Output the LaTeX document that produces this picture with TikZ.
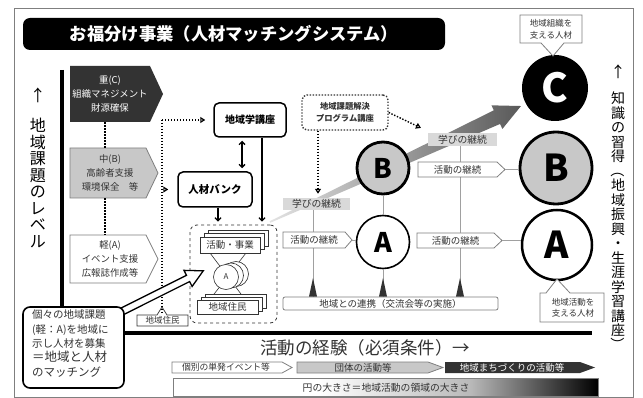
\documentclass[tikz,border=0pt]{standalone}
\usepackage{graphicx}
\usepackage{fontspec}
\setmainfont{Noto Sans CJK JP}
\usetikzlibrary{arrows.meta}
\definecolor{dk}{HTML}{333333}
\definecolor{lg}{HTML}{C8C8C8}
\definecolor{bd}{HTML}{7F7F7F}
\definecolor{thinl}{HTML}{A0A0A0}
\colorlet{midg}{gray!55}
\newcommand\fs[2]{\fontsize{#1}{#2}\selectfont}
\newcommand\pent[6]{\path[#6] (#1,#2) -- ({#3-#5},#2) -- (#3,{(#2+#4)/2}) -- ({#3-#5},#4) -- (#1,#4) -- cycle;}
\newcommand\vparen[1]{\rotatebox[origin=c]{-90}{#1}}
\pgfdeclarehorizontalshading{barshade}{100bp}{color(0bp)=(white); color(25bp)=(white); color(42bp)=(white); color(60bp)=(midg); color(75bp)=(black); color(100bp)=(black)}
\begin{document}
\begin{tikzpicture}[x=1pt,y=-1pt,
  dotline/.style={line width=1.4pt, dash pattern=on 1.4pt off 1.6pt},
  tipo/.style={-{Triangle[open,length=5pt,width=6pt,line width=1.2pt]}},
  sarr/.style={line width=1.3pt, -{Straight Barb[length=3pt,width=6pt]}},
  sbox/.style={draw=black, line width=1.5pt, rounded corners=5pt, fill=white, inner sep=0, font=\bfseries\fs{10}{12}},
  lbl/.style={inner sep=0, align=center, text=dk},
  hair/.style={draw=thinl, line width=0.6pt},
  pentst/.style={fill=white, draw=bd, line width=0.8pt},
  bigc/.style={circle, inner sep=0, font=\bfseries\fs{37}{37}},
  vt/.style={inner sep=0, align=center, text=black}]
\useasboundingbox (0,0) rectangle (643,398);
\fill[white] (0,0) rectangle (643,398);
\draw[bd, line width=0.8pt] (14,8) rectangle (633,397);

% title
\node[fill=black, rounded corners=7pt, minimum width=422pt, minimum height=32pt, inner sep=0, text=white, font=\bfseries\fs{17.3}{20}] (title) at (234,34) {お福分け事業（人材マッチングシステム）};

% thick L line
\draw[line width=4.5pt] (62,70) -- (62,333) -- (592,333);

% learning band
\begin{scope}[shift={(270,222)}, rotate=24.8]
\shade[left color=gray!22, right color=gray!70!black] (0,-0.8) -- (250,-7.5) -- (250,-13) -- (276.5,0) -- (250,13) -- (250,7.5) -- (0,0.8) -- cycle;
\end{scope}

% left level boxes
\pent{70}{66}{163}{122}{13}{fill=dk}
\node[lbl, text=white, minimum width=80pt, minimum height=56pt, font=\fs{9.4}{14}] (lvC) at (110,94) {重(C)\\組織マネジメント\\財源確保};
\pent{70}{148}{158}{198}{12}{fill=lg, draw=bd, line width=0.8pt}
\node[lbl, minimum width=72pt, minimum height=50pt, font=\fs{9.4}{14}] (lvB) at (110,173) {中(B)\\高齢者支援\\環境保全　等};
\pent{70}{235}{158}{283}{12}{pentst}
\node[lbl, minimum width=72pt, minimum height=48pt, font=\fs{9.4}{14}] (lvA) at (110,259) {軽(A)\\イベント支援\\広報誌作成等};
\draw[dotline] ([xshift=-5pt]lvC.south) -- ([xshift=-5pt]lvB.north);
\draw[dotline] ([xshift=-5pt]lvB.south) -- ([xshift=-5pt]lvA.north);

% 地域住民 small label
\path[fill=white, draw=dk, line width=0.7pt] (137,315) -- (157,315) -- (162,307) -- (167,315) -- (188,315) -- (188,326) -- (137,326) -- cycle;
\node[lbl, minimum width=51pt, minimum height=11pt, font=\fs{8.5}{10}] (jumin) at (162.5,320.5) {地域住民};

% boxes
\coordinate (dv) at (162,120);
\node[sbox, minimum width=72pt, minimum height=34pt] (gaku) at (250,120) {地域学講座};
\node[sbox, minimum width=74pt, minimum height=35pt, font=\bfseries\fs{10.5}{12}] (jinzai) at (215,189.5) {人材バンク};
\draw[dotline] (dv) -- (dv |- jumin.north);
\draw[dotline, tipo, shorten >=8pt] (dv) -- (gaku.west);
\draw[dotline, tipo, shorten >=9pt] (dv |- jinzai.west) -- (jinzai.west);
\draw[line width=1.3pt, {Straight Barb[length=3pt,width=6pt]}-{Straight Barb[length=3pt,width=6pt]}, shorten <=3pt, shorten >=3pt] ([xshift=-8pt]gaku.south) -- ([xshift=-8pt]gaku.south |- jinzai.north);

% group
\node[draw=dk, dashed, line width=0.8pt, rounded corners=7pt, minimum width=87pt, minimum height=98pt, inner sep=0] (grp) at (233.5,274) {};
\draw[sarr, shorten >=3pt] ([xshift=12pt]gaku.south) -- ([xshift=12pt]gaku.south |- grp.north);
\draw[sarr, shorten >=3pt] ([xshift=3pt]jinzai.south) -- ([xshift=3pt]jinzai.south |- grp.north);
\draw[dk, line width=0.6pt] (210,253) -- (244,298);
\draw[dk, line width=0.6pt] (246,253) -- (211,298);
\foreach \o in {8,4} \draw[fill=white, draw=dk, line width=0.6pt] ({200+\o},{237-0.875*\o}) rectangle ({260+\o},{253-0.875*\o});
\node[draw=dk, fill=white, line width=0.6pt, minimum width=60pt, minimum height=16pt, inner sep=0, font=\fs{9.5}{11}, text=dk] (katsudo) at (230,245) {活動・事業};
\foreach \o in {8,4} \draw[fill=white, draw=dk, line width=0.6pt] ({197+\o},{300-0.75*\o}) rectangle ({258+\o},{314-0.75*\o});
\node[draw=dk, fill=white, line width=0.6pt, minimum width=61pt, minimum height=14pt, inner sep=0, font=\fs{9.5}{11}, text=dk] (jumin2) at (227.5,307) {地域住民};
\foreach \dx/\dy in {10/-3, 5/-1.5} \draw[fill=white, draw=dk, line width=0.6pt] ({226+\dx},{277+\dy}) circle[radius=12.5pt];
\node[circle, draw=dk, fill=white, line width=0.6pt, minimum size=25pt, inner sep=0, font=\fs{8}{9}, text=dk] (minA) at (226,277) {A};

% hollow arrow and callout
\begin{scope}[shift={(121,312)}, rotate=26.6]
\path[fill=white, draw=black, line width=1.3pt, line join=miter] (0,-3.5) -- (75,-3.5) -- (75,-9) -- (92,0) -- (75,9) -- (75,3.5) -- (0,3.5) -- cycle;
\end{scope}
\node[draw=black, line width=1.6pt, rounded corners=7pt, fill=white, minimum width=101pt, minimum height=81pt, inner sep=0] (callout) at (73.5,347.5) {};
\node[lbl, align=left, anchor=west, font=\fs{10.5}{14.3}] (calltxt) at (32,343.5) {個々の地域課題\\(軽：A)を地域に\\示し人材を募集\\{\fs{12.5}{14.3}＝地域と人材}\\{\fs{11.5}{14.3}のマッチング}};

% program box
\node[draw=dk, dotline, rounded corners=5pt, minimum width=86pt, minimum height=35pt, inner sep=0, font=\bfseries\fs{8.3}{12}, text=dk, align=center] (prog) at (345,112.5) {地域課題解決\\プログラム講座};
\node[fill=gray!30, minimum width=67pt, minimum height=12pt, inner sep=0, font=\fs{9.8}{11}, text=dk] (manabi1) at (316.5,204) {学びの継続};
\node[fill=gray!30, minimum width=69pt, minimum height=13pt, inner sep=0, font=\fs{9.8}{11}, text=dk] (manabi2) at (462.5,139.5) {学びの継続};
\draw[dotline, tipo, shorten >=2pt] (prog.east) -- ([xshift=-5pt,yshift=4pt]manabi2.north west);
\draw[dotline, tipo, shorten >=4pt] ([xshift=-27pt]prog.south) -- ([xshift=-27pt]prog.south |- manabi1.north);

% circles
\node[circle, draw=black, line width=2.8pt, fill=lg, minimum size=52pt, inner sep=0, font=\bfseries\fs{27}{27}] (sB) at (383,168) {B};
\node[circle, draw=black, line width=1.6pt, fill=white, minimum size=53pt, inner sep=0, font=\bfseries\fs{27}{27}] (sA) at (383,242) {A};
\node[bigc, fill=black, text=white, minimum size=66pt, font=\bfseries\fs{40}{40}] (bC) at (555,88) {C};
\node[bigc, draw=black, line width=2.8pt, fill=lg, minimum size=72pt] (bB) at (556,168) {B};
\node[bigc, draw=black, line width=2.5pt, fill=white, minimum size=70pt] (bA) at (557,245) {A};

% renkei box and vertical lines
\node[draw=bd, rounded corners=2pt, fill=white, minimum width=215pt, minimum height=13pt, inner sep=0, font=\fs{9.5}{11}, text=dk, line width=0.8pt] (renkei) at (390.5,303.5) {地域との連携（交流会等の実施）};
\coordinate (v1) at (313,0);
\coordinate (v3) at (460,0);
\coordinate (ttop) at (0,278);
\draw[hair] (v1 |- manabi1.south) -- (v1 |- renkei.north);
\draw[hair] (v3 |- manabi2.south) -- (v3 |- renkei.north);
\draw[hair] (sB.south) -- (sA.north);
\draw[hair] (sA.south) -- (sA |- renkei.north);
\foreach \p in {v1, sA, v3} \fill[dk] ([xshift=-4pt]\p |- renkei.north) -- ([xshift=4pt]\p |- renkei.north) -- (\p |- ttop) -- cycle;

% activity continuation labels
\pent{283}{232}{352}{248}{7}{pentst}
\node[lbl, minimum width=62pt, minimum height=16pt, font=\fs{9.5}{11}] (kz1) at (314,240) {活動の継続};
\pent{418}{162}{505}{177}{8}{pentst}
\node[lbl, minimum width=79pt, minimum height=15pt, font=\fs{9.5}{11}] (kz2) at (457.5,169.5) {活動の継続};
\pent{417}{233}{502}{248}{8}{pentst}
\node[lbl, minimum width=77pt, minimum height=15pt, font=\fs{9.5}{11}] (kz3) at (455.5,240.5) {活動の継続};
\draw[hair] ([xshift=7pt]kz1.east) -- (sA.west |- kz1.east);
\draw[hair] ([xshift=8pt]kz2.east) -- (bB.west |- kz2.east);
\draw[hair] ([xshift=8pt]kz3.east) -- (bA.west |- kz3.east);

% labels on big circles
\path[fill=white, draw=bd, line width=0.8pt] (520,15) -- (582,15) -- (582,43) -- (564,43) -- (553,56) -- (541,43) -- (520,43) -- cycle;
\node[lbl, font=\fs{8.5}{12}] (lC) at (551,29) {地域組織を\\支える人材};
\path[fill=white, draw=bd, line width=0.8pt] (540,293) -- (546,293) -- (557,279) -- (570,293) -- (604,293) -- (604,322) -- (540,322) -- cycle;
\node[lbl, font=\fs{8.5}{11}] (lA) at (573,307.5) {地域活動を\\支える人材};

% bottom
\node[inner sep=0, font=\fs{17.5}{20}, text=dk] (keiken) at (365,348) {活動の経験（必須条件）→};
\pent{172}{362}{292}{373}{10}{pentst}
\node[lbl, font=\fs{8.8}{10}] (ar1) at (226,367.5) {個別の単発イベント等};
\pent{297}{362}{443}{373}{15}{fill=lg, draw=bd, line width=0.8pt}
\node[lbl, font=\fs{9.5}{10}] (ar2) at (363,367.5) {団体の活動等};
\pent{445}{362}{595}{373}{15}{fill=dk}
\node[lbl, text=white, font=\fs{9.5}{10}] (ar3) at (512,367.5) {地域まちづくりの活動等};
\shade[shading=barshade] (173,378) rectangle (598,396);
\draw[bd, line width=0.8pt] (173,378) rectangle (598,396);
\node[lbl, font=\fs{9.8}{11}] (circ) at (386,387.5) {円の大きさ＝地域活動の領域の大きさ};

% vertical texts
\node[vt, font=\fs{16}{16}] (larr) at (38,95) {↑};
\node[vt, font=\fs{16}{16.5}] (ltxt) at (38,183) {地\\域\\課\\題\\の\\レ\\ベ\\ル};
\node[vt, font=\fs{15}{15}] (rarr) at (618,72) {↑};
\node[vt, font=\fs{14}{14.5}] (rtxt) at (618,222) {知\\識\\の\\習\\得\\\vparen{（}\\地\\域\\振\\興\\・\\生\\涯\\学\\習\\講\\座\\\vparen{）}};
\end{tikzpicture}
\end{document}
